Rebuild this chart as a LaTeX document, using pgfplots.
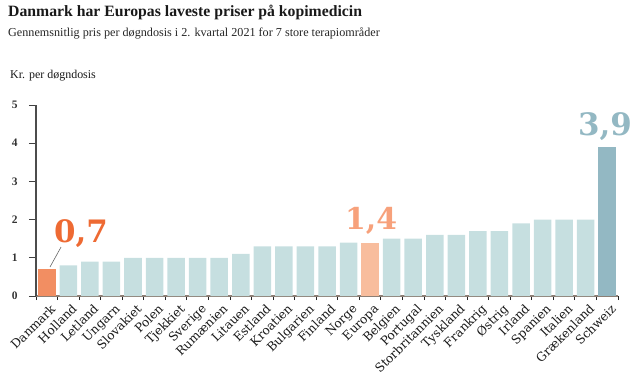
\documentclass[border=0pt]{standalone}
\usepackage{fontspec}
\setmainfont{Liberation Serif}
\newfontfamily\numfont{DejaVu Serif}
\usepackage{pgfplots}
\pgfplotsset{compat=1.18}
\definecolor{barlight}{HTML}{C6DFE0}
\definecolor{dkorange}{HTML}{F28E62}
\definecolor{europa}{HTML}{F8BD9D}
\definecolor{schweiz}{HTML}{93B8C3}
\definecolor{lbl07}{HTML}{EE6A33}
\definecolor{lbl14}{HTML}{F7A17B}
\definecolor{axbrown}{HTML}{8C7F75}
\pgfplotstableread{
x y
1 0.8
2 0.9
3 0.9
4 1.0
5 1.0
6 1.0
7 1.0
8 1.0
9 1.1
10 1.3
11 1.3
12 1.3
13 1.3
14 1.4
16 1.5
17 1.5
18 1.6
19 1.6
20 1.7
21 1.7
22 1.9
23 2.0
24 2.0
25 2.0
}\lightdata
\begin{document}
\begin{tikzpicture}
\begin{axis}[
  at={(0,0)}, anchor=south west,
  scale only axis, width=582bp, height=191bp,
  xmin=-0.5, xmax=26.5, ymin=0, ymax=5,
  axis lines=left,
  axis line style={-},
  x axis line style={axbrown, line width=1.8bp},
  y axis line style={black!70, line width=1.1bp},
  ytick={0,1,2,3,4,5},
  tick align=outside,
  ytick style={black!75, line width=0.9bp},
  major tick length=7bp,
  yticklabel style={font=\fontsize{11.5}{11.5}\bfseries\selectfont, text=black!80, /pgf/number format/assume math mode=true, xshift=-8bp},
  xtick={0,...,26},
  xticklabels={Danmark,Holland,Letland,Ungarn,Slovakiet,Polen,Tjekkiet,Sverige,Rumænien,Litauen,Estland,Kroatien,Bulgarien,Finland,Norge,Europa,Belgien,Portugal,Storbritannien,Tyskland,Frankrig,Østrig,Irland,Spanien,Italien,Grækenland,Schweiz},
  major x tick style={draw=none},
  minor xtick={-0.5,0.5,...,26.5},
  minor x tick style={black!85, line width=0.9bp},
  minor tick length=4bp,
  x tick label style={rotate=45, anchor=north east, font=\numfont\fontsize{12.2}{12.2}\selectfont, text=black!90, inner sep=1pt, xshift=3bp, yshift=-1bp},
  ybar, bar width=17.5bp, bar shift=0pt,
  clip=false,
]
\addplot[fill=barlight, draw=none] table[x=x,y=y] {\lightdata};
\addplot[fill=dkorange, draw=none] coordinates {(0,0.7)};
\addplot[fill=europa, draw=none] coordinates {(15,1.4)};
\addplot[fill=schweiz, draw=none] coordinates {(26,3.9)};
\draw[black!60, line width=0.6bp] (axis cs:0.15,0.76) -- (axis cs:0.66,1.28);
\node[anchor=base west, inner sep=0pt, text=lbl07, font=\numfont\bfseries\fontsize{31}{31}\selectfont] at (axis cs:0.335,1.41) {0,7};
\node[anchor=base west, inner sep=0pt, text=lbl14, font=\numfont\bfseries\fontsize{30}{30}\selectfont] at (axis cs:13.83,1.73) {1,4};
\node[anchor=base west, inner sep=0pt, text=schweiz, font=\numfont\bfseries\fontsize{31}{31}\selectfont] at (axis cs:24.64,4.19) {3,9};
\end{axis}
\node[anchor=base west, inner sep=0pt, text=black!90, font=\fontsize{15.8}{15.8}\bfseries\selectfont] at (-28bp,279.5bp) {Danmark har Europas laveste priser på kopimedicin};
\node[anchor=base west, inner sep=0pt, text=black!85, font=\fontsize{12.2}{12.2}\selectfont] at (-28bp,259bp) {Gennemsnitlig pris per døgndosis i 2. kvartal 2021 for 7 store terapiområder};
\node[anchor=base west, inner sep=0pt, text=black!90, font=\fontsize{12}{12}\selectfont] at (-26bp,217.5bp) {Kr. per døgndosis};
\pgfresetboundingbox
\path[use as bounding box] (-36bp,-89bp) rectangle (604bp,296bp);
\end{tikzpicture}
\end{document}
